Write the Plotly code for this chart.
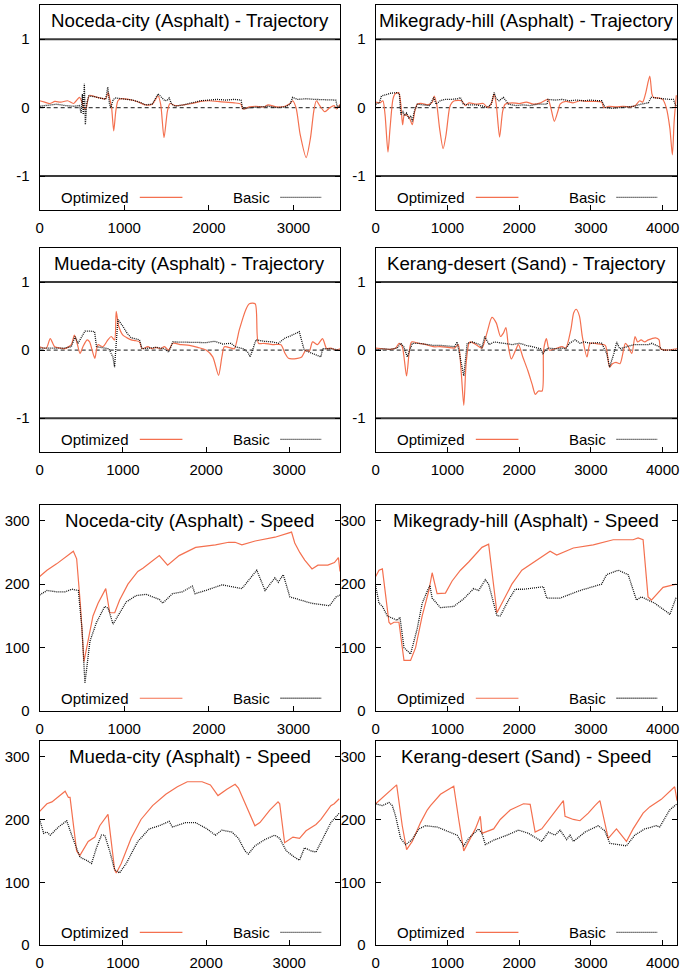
import plotly.graph_objects as go

# ---------------- data ----------------
# Trajectory panels (x = distance, y = lateral offset)
noceda_traj_opt_x = [0,60,120,180,250,330,400,470,500,520,545,570,590,650,720,780,810,830,850,875,900,925,960,1050,1150,1250,1330,1400,1430,1470,1510,1540,1600,1700,1800,1900,2000,2100,2200,2300,2380,2400,2480,2550,2650,2700,2800,2900,2960,2990,3030,3080,3150,3200,3240,3270,3310,3370,3430,3480,3510,3550]
noceda_traj_opt_y = [0.10,0.08,0.06,0.09,0.08,0.10,0.06,0.15,0.08,0.0,-0.02,0.12,0.18,0.16,0.14,0.13,0.22,0.12,0.0,-0.34,-0.05,0.10,0.13,0.12,0.09,0.04,0.05,0.17,0.05,-0.44,-0.05,0.06,0.03,0.04,0.06,0.09,0.10,0.09,0.08,0.07,0.05,-0.02,0.01,0.02,0.01,0.04,0.01,0.02,0.06,0.10,0.0,-0.4,-0.73,-0.45,-0.05,0.10,0.03,-0.06,0.0,0.03,-0.02,0.05]
noceda_traj_bas_x = [0,100,200,300,400,470,490,505,515,528,540,555,580,650,720,780,805,825,840,870,900,1000,1100,1200,1250,1330,1400,1440,1480,1510,1530,1560,1600,1700,1800,1900,2000,2100,2200,2300,2380,2400,2500,2600,2700,2800,2900,2960,2990,3050,3150,3250,3350,3450,3500,3520,3550]
noceda_traj_bas_y = [0.02,0.03,0.05,0.03,0.02,0.03,-0.08,0.2,-0.1,0.35,-0.25,0.05,0.17,0.16,0.14,0.12,0.30,0.05,0.0,0.12,0.14,0.13,0.11,0.07,0.04,0.05,0.2,0.15,0.1,0.11,0.14,0.05,0.02,0.04,0.07,0.10,0.11,0.12,0.11,0.12,0.11,-0.02,0.0,0.01,0.02,0.0,0.01,0.05,0.15,0.12,0.13,0.12,0.12,0.12,0.11,0.0,0.03]

mike_traj_opt_x = [0,60,100,130,171,200,240,270,320,350,375,400,440,470,510,545,580,650,720,790,815,850,890,940,980,1030,1060,1100,1200,1250,1300,1400,1500,1560,1620,1650,1680,1727,1770,1805,1900,2000,2100,2200,2300,2400,2440,2490,2540,2570,2650,2750,2850,2950,3050,3150,3180,3250,3350,3450,3550,3620,3680,3720,3760,3820,3850,3870,3950,4000,4050,4100,4135,4160,4190]
mike_traj_opt_y = [0.08,0.07,0.10,-0.1,-0.65,-0.3,0.12,0.2,0.22,0.05,-0.25,-0.1,-0.12,-0.15,-0.25,-0.05,0.05,0.06,0.04,0.08,0.17,0.05,-0.3,-0.6,-0.4,0.0,0.07,0.1,0.1,0.03,0.07,0.05,0.06,0.0,0.08,0.2,0.05,-0.43,-0.05,0.05,0.07,0.06,0.08,0.05,0.07,0.12,0.0,-0.2,-0.05,0.05,0.09,0.07,0.1,0.09,0.09,0.08,0.0,0.02,0.01,0.02,0.01,0.03,0.1,0.08,0.2,0.46,0.2,0.15,0.14,0.12,0.0,-0.3,-0.69,-0.2,0.18]
mike_traj_bas_x = [0,50,80,150,210,300,330,350,380,400,430,460,490,510,540,580,650,750,810,840,900,960,1050,1150,1180,1220,1300,1400,1500,1550,1610,1650,1680,1720,1780,1850,1950,2050,2150,2250,2390,2400,2500,2600,2700,2800,2900,3000,3100,3150,3200,3300,3400,3500,3600,3700,3800,3840,3900,4000,4100,4150,4180,4200]
mike_traj_bas_y = [0.05,0.07,0.17,0.19,0.21,0.22,0.2,-0.1,-0.05,-0.12,-0.08,-0.15,-0.12,-0.2,-0.05,0.05,0.04,0.03,0.15,0.05,0.1,0.12,0.12,0.13,0.15,0.05,0.04,0.04,0.02,0.0,0.05,0.22,0.13,0.1,0.15,0.05,0.03,0.04,0.03,0.05,0.05,0.12,0.11,0.12,0.1,0.11,0.1,0.11,0.1,0.1,0.0,-0.01,0.0,0.01,0.02,0.05,0.07,0.15,0.14,0.13,0.12,0.12,0.03,0.03]

mueda_traj_opt_x = [0,80,127,180,250,300,380,417,450,485,520,570,600,630,663,700,760,820,860,900,920,950,1000,1050,1100,1150,1200,1230,1300,1350,1400,1450,1500,1550,1600,1700,1800,1900,2000,2080,2150,2190,2220,2300,2340,2400,2480,2520,2590,2630,2700,2800,2900,2950,2990,3100,3150,3200,3240,3280,3340,3400,3450,3500,3560,3610]
mueda_traj_opt_y = [0.05,0.03,0.17,0.05,0.03,0.02,0.08,0.22,0.1,-0.05,0.05,0.15,0.12,0.0,-0.12,0.08,0.05,0.15,0.2,0.15,0.57,0.35,0.22,0.18,0.15,0.14,0.12,0.02,0.05,0.02,0.04,0.02,0.05,0.0,0.1,0.08,0.07,0.04,0.0,-0.1,-0.37,-0.1,0.05,0.03,0.02,0.3,0.6,0.68,0.68,0.1,0.1,0.08,0.08,-0.05,-0.12,-0.12,-0.1,0.0,-0.02,0.12,0.08,0.17,0.02,0.03,0.0,0.02]
mueda_traj_bas_x = [0,100,200,300,380,425,460,545,600,660,683,750,830,880,900,920,940,1000,1050,1100,1200,1230,1300,1400,1500,1550,1600,1700,1800,1900,2000,2100,2200,2300,2350,2450,2500,2530,2560,2600,2700,2800,2870,2950,3000,3100,3120,3180,3250,3340,3380,3400,3500,3610]
mueda_traj_bas_y = [0.03,0.03,0.02,0.03,0.05,0.2,0.1,0.28,0.28,0.27,0.05,0.04,0.02,-0.1,-0.25,0.1,0.45,0.35,0.25,0.18,0.15,0.02,0.03,0.04,0.02,-0.03,0.12,0.12,0.11,0.12,0.11,0.13,0.09,0.1,0.05,0.02,-0.03,-0.1,0.0,0.15,0.13,0.12,0.1,0.18,0.2,0.25,0.27,0.0,-0.03,-0.08,-0.1,0.02,0.02,0.0]

kerang_traj_opt_x = [0,100,200,280,325,370,430,470,500,600,700,800,900,1000,1100,1150,1190,1228,1260,1300,1320,1400,1480,1550,1620,1680,1740,1780,1815,1850,1890,1950,1990,2050,2120,2180,2225,2270,2320,2340,2380,2420,2500,2600,2650,2720,2760,2795,2840,2880,2945,2990,3100,3200,3260,3300,3350,3405,3480,3520,3570,3615,3650,3700,3750,3800,3900,3950,3970,4050,4200]
kerang_traj_opt_y = [0.03,0.02,0.01,0.03,0.1,0.05,-0.38,0.0,0.12,0.1,0.08,0.05,0.05,0.04,0.03,0.08,-0.3,-0.81,-0.2,0.1,0.12,0.08,0.03,0.25,0.48,0.4,0.2,0.25,0.33,0.05,-0.13,0.0,0.08,-0.1,-0.3,-0.5,-0.65,-0.6,-0.6,0.0,0.17,0.0,0.02,0.05,0.03,0.3,0.55,0.6,0.5,0.2,-0.1,0.1,0.09,0.07,-0.25,-0.2,-0.18,-0.2,0.1,0.05,-0.05,0.2,0.12,0.15,0.12,0.15,0.18,0.15,0.02,0.0,0.02]
kerang_traj_bas_x = [0,100,200,300,350,390,440,510,600,700,800,900,1000,1100,1135,1180,1228,1275,1350,1450,1480,1520,1580,1650,1750,1850,1900,2000,2100,2200,2300,2330,2400,2500,2600,2650,2700,2780,2850,2900,3000,3100,3150,3220,3260,3320,3360,3400,3500,3600,3700,3800,3850,3950,4000,4100,4200]
kerang_traj_bas_y = [0.0,0.02,0.01,0.03,0.1,0.05,-0.1,0.1,0.1,0.08,0.07,0.07,0.06,0.05,0.12,-0.1,-0.38,0.1,0.12,0.08,0.03,0.2,0.08,0.12,0.11,0.09,0.08,0.1,0.07,0.05,0.02,-0.05,0.03,0.02,0.03,0.02,0.1,0.15,0.1,0.12,0.1,0.11,0.1,-0.05,-0.25,-0.05,0.12,0.02,0.05,0.08,0.08,0.08,0.1,0.05,0.0,0.0,0.0]

# Speed panels
noceda_speed_opt_x = [0,86,200,300,398,437,480,523,586,630,690,770,781,828,887,945,1043,1160,1220,1414,1512,1648,1844,2078,2234,2310,2390,2547,2781,2977,3015,3074,3133,3219,3289,3406,3484,3531,3550]
noceda_speed_opt_y = [212,222,232,242,252,240,170,78,120,150,170,190,193,155,155,175,200,220,225,245,230,245,258,262,266,266,262,268,274,282,265,250,238,224,230,230,234,242,220]
noceda_speed_bas_x = [0,86,200,300,380,457,500,535,594,672,770,810,867,926,1023,1140,1258,1414,1453,1570,1688,1805,1836,1961,2156,2390,2566,2664,2781,2820,2879,2957,3055,3211,3426,3504,3555]
noceda_speed_bas_y = [183,190,188,188,192,190,130,44,110,140,165,162,137,150,172,182,184,176,170,185,188,197,185,190,199,193,222,190,210,203,215,180,176,170,166,180,183]

mike_speed_opt_x = [0,46,93,185,208,255,324,394,486,556,648,741,787,856,972,1065,1181,1296,1481,1574,1690,1736,1898,2037,2245,2431,2523,2755,3032,3310,3588,3657,3727,3796,3843,4005,4190]
mike_speed_opt_y = [212,222,224,140,137,140,140,80,80,100,150,190,218,185,186,205,222,235,258,263,155,165,200,222,238,252,246,257,262,270,270,273,270,180,175,195,200]
mike_speed_bas_x = [0,46,93,162,300,338,394,463,486,579,648,741,755,787,903,1088,1227,1366,1435,1528,1574,1690,1736,1852,1944,2060,2338,2384,2569,2847,3148,3218,3380,3519,3634,3704,3796,3889,4074,4100,4190]
mike_speed_bas_y = [197,170,165,150,143,148,100,92,90,130,170,195,198,178,163,165,177,193,190,207,200,150,150,175,192,192,196,178,178,190,200,215,222,215,175,180,175,170,155,152,180]

mueda_speed_opt_x = [0,87,147,306,345,365,444,484,583,663,722,821,901,921,980,1099,1218,1357,1516,1655,1774,1952,2052,2143,2250,2349,2389,2488,2587,2647,2766,2865,2885,2944,3044,3123,3202,3321,3381,3500,3540,3600]
mueda_speed_opt_y = [213,225,228,245,235,235,150,143,165,172,190,208,120,115,130,170,200,222,240,252,260,260,255,238,248,256,250,220,190,195,215,228,225,163,172,170,182,192,200,222,225,233]
mueda_speed_bas_x = [0,48,87,127,226,325,385,425,484,563,623,683,742,782,841,901,960,1040,1179,1317,1437,1556,1596,1754,1873,2012,2111,2190,2310,2389,2468,2508,2587,2706,2825,2885,2964,3063,3123,3183,3262,3321,3401,3500,3600]
mueda_speed_bas_y = [200,178,180,175,188,198,175,160,140,135,130,155,175,175,150,120,115,130,165,185,190,197,188,195,195,185,175,183,180,170,150,145,158,168,175,170,150,140,135,155,150,148,170,195,210]

kerang_speed_opt_x = [0,139,292,370,431,509,625,718,764,903,1088,1157,1227,1273,1389,1458,1481,1644,1736,1875,2060,2153,2222,2315,2477,2546,2616,2639,2755,2847,2963,3056,3125,3241,3356,3495,3588,3727,3819,3981,4167,4200]
kerang_speed_opt_y = [225,240,255,190,152,165,195,215,222,240,253,200,150,160,185,205,178,185,200,215,225,224,180,185,210,220,230,205,200,198,210,222,230,170,185,165,185,210,220,232,252,230]
kerang_speed_bas_x = [0,93,185,232,278,347,417,509,602,694,856,1042,1134,1227,1296,1435,1481,1528,1644,1829,1991,2130,2315,2407,2500,2569,2662,2708,2755,2917,3102,3194,3264,3495,3611,3750,3912,3958,4097,4200]
kerang_speed_bas_y = [225,222,227,222,205,170,160,168,185,190,188,180,175,158,170,185,178,160,167,175,183,178,165,180,175,183,168,175,165,180,190,182,162,158,175,185,190,188,215,225]

panel_titles = [
    "Noceda-city (Asphalt) - Trajectory", "Mikegrady-hill (Asphalt) - Trajectory",
    "Mueda-city (Asphalt) - Trajectory", "Kerang-desert (Sand) - Trajectory",
    "Noceda-city (Asphalt) - Speed", "Mikegrady-hill (Asphalt) - Speed",
    "Mueda-city (Asphalt) - Speed", "Kerang-desert (Sand) - Speed",
]
x_max = [3550, 4200, 3610, 4200, 3550, 4200, 3610, 4200]
series_names = ["Optimized", "Basic"]
traj_ticks = [-1, 0, 1]
traj_ticktext = ["-1", "0", "1"]
speed_ticks = [0, 100, 200, 300]

panel_data = [
    (noceda_traj_opt_x, noceda_traj_opt_y, noceda_traj_bas_x, noceda_traj_bas_y),
    (mike_traj_opt_x, mike_traj_opt_y, mike_traj_bas_x, mike_traj_bas_y),
    (mueda_traj_opt_x, mueda_traj_opt_y, mueda_traj_bas_x, mueda_traj_bas_y),
    (kerang_traj_opt_x, kerang_traj_opt_y, kerang_traj_bas_x, kerang_traj_bas_y),
    (noceda_speed_opt_x, noceda_speed_opt_y, noceda_speed_bas_x, noceda_speed_bas_y),
    (mike_speed_opt_x, mike_speed_opt_y, mike_speed_bas_x, mike_speed_bas_y),
    (mueda_speed_opt_x, mueda_speed_opt_y, mueda_speed_bas_x, mueda_speed_bas_y),
    (kerang_speed_opt_x, kerang_speed_opt_y, kerang_speed_bas_x, kerang_speed_bas_y),
]

# ---------------- layout / style ----------------
W, H = 682, 977
FONT = "Liberation Sans, Arial, Helvetica, sans-serif"
ORANGE = "#F4704F"
BLACK = "#111111"
cols = [(36, 339), (375, 679)]
rows = [(5, 212), (250, 456), (509, 717), (747, 953)]

def fx(p):
    return p / W

def fy(p):
    return 1 - p / H

fig = go.Figure()
layout = dict(
    width=W, height=H, margin=dict(l=0, r=0, t=0, b=0),
    paper_bgcolor="white", plot_bgcolor="white", showlegend=False,
    font=dict(family=FONT, size=15, color="black"),
)
shapes = []
annotations = []

for k in range(8):
    r, c = k // 2, k % 2
    L, R = cols[c]
    T, B = rows[r]
    n = "" if k == 0 else str(k + 1)
    xa, ya = "x" + n, "y" + n
    is_traj = k < 4
    ox, oy, bx, by = panel_data[k]

    opt_line = dict(color=ORANGE, width=1.2)
    if is_traj:
        opt_line.update(shape="spline", smoothing=0.7)
    fig.add_trace(go.Scatter(x=ox, y=oy, xaxis=xa, yaxis=ya, mode="lines",
                             name=series_names[0], line=opt_line))
    fig.add_trace(go.Scatter(x=bx, y=by, xaxis=xa, yaxis=ya, mode="lines",
                             name=series_names[1],
                             line=dict(color=BLACK, width=1.3, dash="1px,1px")))

    xt = [v for v in range(0, x_max[k] + 1, 1000)]
    layout["xaxis" + n] = dict(
        domain=[fx(L), fx(R)], range=[0, x_max[k]], anchor=ya,
        showline=True, mirror=True, linecolor="black", linewidth=1,
        ticks="inside", ticklen=5, tickcolor="black", tickwidth=1,
        tickvals=xt, ticktext=[str(v) for v in xt],
        showgrid=False, zeroline=False, ticklabelstandoff=4,
        tickfont=dict(size=15, family=FONT, color="black"),
    )
    if is_traj:
        yextra = dict(range=[-1.5, 1.5], tickvals=traj_ticks, ticktext=traj_ticktext)
    else:
        yextra = dict(range=[0, 325], tickvals=speed_ticks,
                      ticktext=[str(v) for v in speed_ticks])
    layout["yaxis" + n] = dict(
        domain=[fy(B), fy(T)], anchor=xa,
        showline=True, mirror="ticks", linecolor="black", linewidth=1,
        ticks="inside", ticklen=5, tickcolor="black", tickwidth=1,
        showgrid=False, zeroline=False, ticklabelstandoff=6,
        tickfont=dict(size=15, family=FONT, color="black"),
        **yextra,
    )

    if is_traj:
        for yv in (1, -1):
            shapes.append(dict(type="line", xref=xa + " domain", yref=ya,
                               x0=0, x1=1, y0=yv, y1=yv, layer="below",
                               line=dict(color="#3a3a3a", width=2)))
        shapes.append(dict(type="line", xref=xa + " domain", yref=ya,
                           x0=0, x1=1, y0=0, y1=0, layer="below",
                           line=dict(color="#444444", width=1.2, dash="4px,3px")))

    # title inside the box
    annotations.append(dict(text=panel_titles[k], xref="paper", yref="paper",
                            x=fx((L + R) / 2), y=fy(T + 16), xanchor="center",
                            yanchor="middle", showarrow=False,
                            font=dict(size=18.7, family=FONT, color="black")))
    # gnuplot-style key
    ky = B - 13
    annotations.append(dict(text=series_names[0], xref="paper", yref="paper",
                            x=fx(L + 92), y=fy(ky), xanchor="right", yanchor="middle",
                            showarrow=False,
                            font=dict(size=15, family=FONT, color="black")))
    annotations.append(dict(text=series_names[1], xref="paper", yref="paper",
                            x=fx(L + 234), y=fy(ky), xanchor="right", yanchor="middle",
                            showarrow=False,
                            font=dict(size=15, family=FONT, color="black")))
    shapes.append(dict(type="line", xref="paper", yref="paper",
                       x0=fx(L + 101), x1=fx(L + 144), y0=fy(ky), y1=fy(ky),
                       line=dict(color=ORANGE, width=1.2)))
    shapes.append(dict(type="line", xref="paper", yref="paper",
                       x0=fx(L + 243), x1=fx(L + 284), y0=fy(ky), y1=fy(ky),
                       line=dict(color=BLACK, width=1.3, dash="1px,1px")))

layout["shapes"] = shapes
layout["annotations"] = annotations
fig.update_layout(**layout)
fig.write_html(
    "out.html",
    config={"displayModeBar": False},
    post_script="document.body.style.margin='0';document.body.style.overflow='hidden';",
)
